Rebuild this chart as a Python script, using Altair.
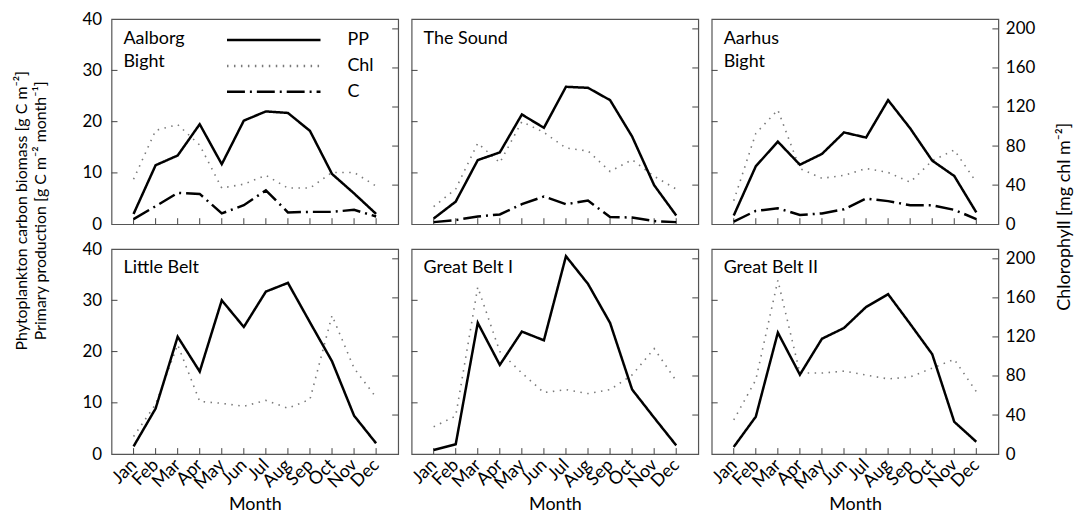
import altair as alt
import pandas as pd

FONT = "Lato"
W, H = 288, 206

months = ["Jan", "Feb", "Mar", "Apr", "May", "Jun", "Jul", "Aug", "Sep", "Oct", "Nov", "Dec"]
month_num = list(range(1, 13))

# Primary production (g C m-2 month-1), left axis
pp_aalborg = [2.0, 11.5, 13.4, 19.5, 11.7, 20.2, 22.0, 21.7, 18.2, 9.8, 6.0, 2.0]
pp_sound = [1.1, 4.4, 12.5, 14.0, 21.4, 18.8, 26.8, 26.6, 24.2, 17.1, 7.6, 1.7]
pp_aarhus = [1.7, 11.3, 16.1, 11.6, 13.7, 17.9, 16.9, 24.2, 18.7, 12.4, 9.4, 2.3]
pp_little = [1.5, 8.9, 22.9, 16.1, 30.0, 24.8, 31.7, 33.4, 25.7, 18.1, 7.5, 2.1]
pp_great1 = [0.8, 1.9, 25.6, 17.4, 23.9, 22.2, 38.6, 33.2, 25.6, 12.6, 7.1, 1.7]
pp_great2 = [1.4, 7.3, 23.7, 15.5, 22.5, 24.6, 28.7, 31.2, 25.4, 19.5, 6.3, 2.4]

# Chlorophyll (mg chl m-2), right axis
chl_aalborg = [46, 96, 102, 81, 37, 41, 50, 37, 37, 53, 53, 39]
chl_sound = [18, 36, 83, 63, 105, 94, 78, 75, 54, 66, 49, 36]
chl_aarhus = [24, 93, 117, 57, 47, 50, 57, 53, 43, 65, 76, 43]
chl_little = [18, 51, 112, 54, 52, 49, 55, 47, 56, 142, 88, 58]
chl_great1 = [28, 39, 171, 105, 83, 63, 66, 62, 66, 81, 108, 75]
chl_great2 = [35, 76, 178, 83, 83, 85, 81, 77, 79, 88, 97, 64]

# Phytoplankton carbon biomass (g C m-2), left axis (first row only)
c_aalborg = [1.0, 3.5, 6.1, 5.9, 2.1, 3.7, 6.6, 2.3, 2.4, 2.4, 2.8, 1.5]
c_sound = [0.4, 0.8, 1.5, 1.9, 3.9, 5.4, 3.9, 4.6, 1.4, 1.3, 0.6, 0.4]
c_aarhus = [0.5, 2.6, 3.1, 1.8, 2.1, 2.9, 5.0, 4.5, 3.7, 3.7, 2.8, 1.0]

station_labels = ["Aalborg\nBight", "The Sound", "Aarhus\nBight",
                  "Little Belt", "Great Belt I", "Great Belt II"]
pp_all = [pp_aalborg, pp_sound, pp_aarhus, pp_little, pp_great1, pp_great2]
chl_all = [chl_aalborg, chl_sound, chl_aarhus, chl_little, chl_great1, chl_great2]
c_all = [c_aalborg, c_sound, c_aarhus, None, None, None]

left_ticks = [10, 20, 30]
right_ticks = [40, 80, 120, 160, 200]
left_values = [0, 10, 20, 30, 40]
right_values = [0, 40, 80, 120, 160, 200]

series_domain = ["PP", "Chl", "C"]
series_colors = ["black", "#7a7a7a", "black"]
series_dash = [[1, 0], [1.5, 5.5], [18, 5, 2, 5]]

left_title = ["Phytoplankton carbon biomass [g C m\u207b\u00b2]",
              "Primary production [g C m\u207b\u00b2 month\u207b\u00b9]"]
right_title = "Chlorophyll [mg chl m\u207b\u00b2]"

TICK_COLOR = "#444444"
month_expr = "[" + ",".join("'%s'" % m for m in months) + "][datum.value - 1]"


def x_enc(field, bottom):
    if bottom:
        ax = alt.Axis(values=month_num, labelExpr=month_expr, labelAngle=315,
                      labelAlign="right", labelBaseline="middle", labelFontSize=18,
                      labelFont=FONT, labelPadding=8, labelOverlap=False,
                      ticks=False, domain=False, grid=False, title="Month",
                      titleFontSize=18, titleFont=FONT, titleFontWeight="normal",
                      titlePadding=3)
    else:
        ax = None
    return alt.X(field, type="quantitative", scale=alt.Scale(domain=[0, 13]), axis=ax)


def panel(i):
    row, col = divmod(i, 3)
    bottom = row == 1
    rows_main = []
    for m, v in zip(month_num, pp_all[i]):
        rows_main.append({"month": m, "value": v, "series": "PP"})
    if c_all[i] is not None:
        for m, v in zip(month_num, c_all[i]):
            rows_main.append({"month": m, "value": v, "series": "C"})
    df_main = pd.DataFrame(rows_main)
    df_chl = pd.DataFrame({"month": month_num, "value": chl_all[i], "series": "Chl"})

    if i == 0:
        leg = alt.Legend(orient="none", legendX=152, legendY=10, direction="vertical",
                         symbolType="M-5,0H5", symbolSize=353, symbolStrokeWidth=2.5,
                         labelFontSize=18, labelFont=FONT, labelOffset=63,
                         rowPadding=6, padding=0, title=None)
    else:
        leg = None
    color = alt.Color("series:N", scale=alt.Scale(domain=series_domain, range=series_colors), legend=leg)
    dash = alt.StrokeDash("series:N", scale=alt.Scale(domain=series_domain, range=series_dash), legend=leg)

    if col == 0:
        left_axis = alt.Axis(values=left_values, labelFontSize=17, labelFont=FONT,
                             ticks=False, domain=False, grid=False, labelPadding=10,
                             title=left_title if i == 0 else None,
                             titleAngle=270, titleX=-90, titleY=192, titleAlign="center",
                             titleBaseline="middle", titleFontSize=16, titleFont=FONT,
                             titleFontWeight="normal", titleLineHeight=19)
    else:
        left_axis = None
    if col == 2:
        right_axis = alt.Axis(orient="right", values=right_values, labelFontSize=17,
                              labelFont=FONT, ticks=False, domain=False, grid=False,
                              labelPadding=7, title=right_title if i == 2 else None,
                              titleAngle=270, titleX=66, titleY=198, titleAlign="center",
                              titleBaseline="middle", titleFontSize=18, titleFont=FONT,
                              titleFontWeight="normal")
    else:
        right_axis = None

    main = alt.Chart(df_main).mark_line(strokeWidth=2.5).encode(
        x=x_enc("month", bottom),
        y=alt.Y("value:Q", scale=alt.Scale(domain=[0, 40]), axis=left_axis),
        color=color, strokeDash=dash, detail="series:N")
    chl = alt.Chart(df_chl).mark_line(strokeWidth=1.6).encode(
        x=x_enc("month", bottom),
        y=alt.Y("value:Q", scale=alt.Scale(domain=[0, 210]), axis=right_axis),
        color=color, strokeDash=dash)

    lt = alt.Chart(pd.DataFrame({"v": left_ticks})).mark_rule(color=TICK_COLOR, strokeWidth=1).encode(
        y=alt.Y("v:Q", scale=alt.Scale(domain=[0, 40]), axis=None),
        x=alt.value(0), x2=alt.value(6))
    rt = alt.Chart(pd.DataFrame({"v": right_ticks})).mark_rule(color=TICK_COLOR, strokeWidth=1).encode(
        y=alt.Y("v:Q", scale=alt.Scale(domain=[0, 210]), axis=None),
        x=alt.value(W - 6), x2=alt.value(W))
    bt = alt.Chart(pd.DataFrame({"m": month_num})).mark_rule(color=TICK_COLOR, strokeWidth=1).encode(
        x=x_enc("m", bottom), y=alt.value(H), y2=alt.value(H - 6))

    lab = alt.Chart(pd.DataFrame({"label": [station_labels[i]]})).mark_text(
        align="left", baseline="top", fontSize=18, font=FONT, color="black",
        lineBreak="\n", lineHeight=23).encode(
        text="label:N", x=alt.value(12), y=alt.value(11 if row == 0 else 10))

    return alt.layer(bt, lt, rt, chl, main, lab).resolve_scale(y="independent").properties(
        width=W, height=H)


panels = [panel(i) for i in range(6)]
chart = alt.concat(*panels, columns=3, spacing={"row": 25, "column": 13.5}).resolve_scale(
    x="independent", y="independent", color="independent", strokeDash="independent"
).properties(
    bounds="flush", padding={"left": 5, "top": 0, "right": 0, "bottom": 0}
).configure(font=FONT).configure_view(stroke="#555555", strokeWidth=1.2).configure_axis(
    labelColor="black", titleColor="black")

chart.save("out.html", embed_options={"renderer": "svg", "actions": False})
